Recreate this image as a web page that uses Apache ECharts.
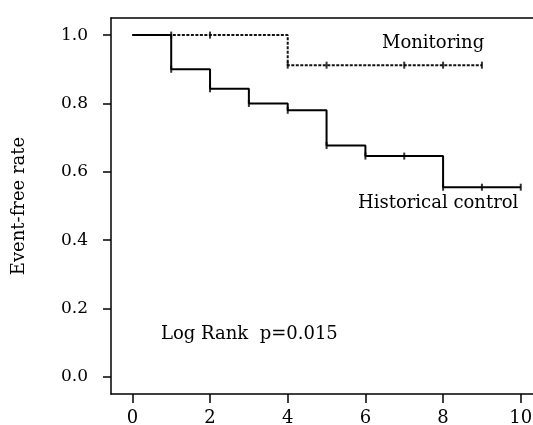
<!DOCTYPE html>
<html>
<head>
<meta charset="utf-8">
<script src="https://cdn.jsdelivr.net/npm/echarts@6/dist/echarts.min.js"></script>
<style>html,body{margin:0;padding:0;background:#fff;overflow:hidden;}#c{width:533px;height:425px;}</style>
</head>
<body>
<div id="c"></div>
<script>
// Historical control (solid step curve)
const histTimes = [0, 1, 2, 3, 4, 5, 6, 8, 10];
const histRates = [1.0, 0.9, 0.843, 0.80, 0.78, 0.677, 0.646, 0.555, 0.555];
const histMarkTimes = [1, 2, 3, 4, 5, 6, 7, 8, 9, 10];
const histMarkRates = [0.9, 0.843, 0.80, 0.78, 0.677, 0.646, 0.646, 0.555, 0.555, 0.555];
// Monitoring (dotted step curve)
const monTimes = [0, 4, 9];
const monRates = [1.0, 0.912, 0.912];
const monMarkTimes = [1, 2, 4, 5, 7, 8, 9];
const monMarkRates = [1.0, 1.0, 0.912, 0.912, 0.912, 0.912, 0.912];
// Tick labels
const xTicks = [0, 2, 4, 6, 8, 10];
const yTicks = [0.0, 0.2, 0.4, 0.6, 0.8, 1.0];

const zip = (a, b) => a.map((v, i) => [v, b[i]]);
const FONT = '"DejaVu Serif", serif';

const chart = echarts.init(document.getElementById('c'), null, {renderer: 'canvas'});
chart.setOption({
  animation: false,
  backgroundColor: '#fff',
  grid: {left: 111, top: 18, width: 450, height: 376, outerBoundsMode: 'none', containLabel: false, show: false},
  xAxis: [{
    type: 'value', min: -0.55, max: 11.036,
    axisLine: {show: true, onZero: false, lineStyle: {color: '#000', width: 1.5}},
    axisTick: {show: true, customValues: xTicks, length: 9, lineStyle: {color: '#000', width: 1.5}},
    axisLabel: {customValues: xTicks, margin: 15, color: '#000', fontFamily: FONT, fontSize: 18},
    splitLine: {show: false}
  }, {
    type: 'value', position: 'top', min: -0.55, max: 11.036,
    axisLine: {show: true, onZero: false, lineStyle: {color: '#000', width: 1.5}},
    axisTick: {show: false}, axisLabel: {show: false}, splitLine: {show: false}
  }],
  yAxis: {
    type: 'value', min: -0.05, max: 1.05,
    name: 'Event-free rate', nameLocation: 'middle', nameGap: 83, nameRotate: 90,
    nameTextStyle: {color: '#000', fontFamily: FONT, fontSize: 18},
    axisLine: {show: true, onZero: false, lineStyle: {color: '#000', width: 1.5}},
    axisTick: {show: true, customValues: yTicks, length: 8, lineStyle: {color: '#000', width: 1.5}},
    axisLabel: {customValues: yTicks, margin: 23, color: '#000', fontFamily: FONT, fontSize: 17,
      formatter: v => v.toFixed(1)},
    splitLine: {show: false}
  },
  series: [
    {type: 'line', step: 'end', data: zip(monTimes, monRates), showSymbol: false, symbol: 'none',
      lineStyle: {color: '#111', width: 2, type: [3, 1.5]}, z: 2},
    {type: 'scatter', data: zip(monMarkTimes, monMarkRates), symbol: 'rect', symbolSize: [2, 7],
      itemStyle: {color: '#000'}, z: 3},
    {type: 'line', step: 'end', data: zip(histTimes, histRates), showSymbol: false, symbol: 'none',
      lineStyle: {color: '#000', width: 2}, z: 4},
    {type: 'scatter', data: zip(histMarkTimes, histMarkRates), symbol: 'rect', symbolSize: [2, 7],
      itemStyle: {color: '#000'}, z: 5}
  ],
  graphic: [
    {type: 'text', style: {text: 'Monitoring', x: 382, y: 43, font: '18px ' + FONT, fill: '#000', textVerticalAlign: 'middle'}},
    {type: 'text', style: {text: 'Historical control', x: 358, y: 203, font: '18px ' + FONT, fill: '#000', textVerticalAlign: 'middle'}},
    {type: 'text', style: {text: 'Log Rank  p=0.015', x: 161, y: 334, font: '18px ' + FONT, fill: '#000', textVerticalAlign: 'middle'}}
  ]
});
</script>
</body>
</html>
